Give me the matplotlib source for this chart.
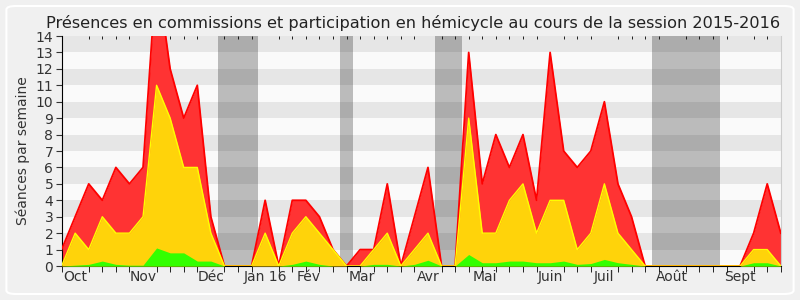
import matplotlib.pyplot as plt
import numpy as np
from matplotlib.patches import FancyBboxPatch

# weekly values, session 2015-2016 (week 0 = end of Sept 2015)
presence_total = [1, 3, 5, 4, 6, 5, 6, 18, 12, 9, 11, 3, 0, 0, 0, 4, 0, 4, 4, 3,
                  1, 0, 1, 1, 5, 0, 3, 6, 0, 0, 13, 5, 8, 6, 8, 4, 13, 7, 6, 7,
                  10, 5, 3, 0, 0, 0, 0, 0, 0, 0, 0, 2, 5, 2]
presence_hemicycle = [0, 2, 1, 3, 2, 2, 3, 11, 9, 6, 6, 2, 0, 0, 0, 2, 0, 2, 3, 2,
                      1, 0, 0, 1, 2, 0, 1, 2, 0, 0, 9, 2, 2, 4, 5, 2, 4, 4, 1, 2,
                      5, 2, 1, 0, 0, 0, 0, 0, 0, 0, 0, 1, 1, 0]
interventions = [0, 0.05, 0.1, 0.3, 0.1, 0.05, 0.05, 1.1, 0.8, 0.8, 0.3, 0.3, 0, 0, 0, 0, 0, 0.1, 0.3, 0.1,
                 0, 0, 0, 0.1, 0.1, 0, 0.1, 0.35, 0, 0, 0.7, 0.2, 0.2, 0.3, 0.3, 0.2, 0.2, 0.3, 0.1, 0.15,
                 0.4, 0.2, 0.1, 0, 0, 0, 0, 0, 0, 0, 0, 0.2, 0.2, 0]

month_labels = ["Oct", "Nov", "Déc", "Jan 16", "Fév", "Mar", "Avr", "Mai", "Juin", "Juil", "Août", "Sept"]
month_weeks = [1, 6, 11, 15, 18.2, 22.1, 27, 31.2, 36, 40, 45, 50]

# parliamentary breaks, in weeks
vacations = [(11.5, 14.5), (20.5, 21.5), (27.5, 29.5), (43.5, 48.5)]


def main():
    weeks = np.arange(len(presence_total))
    fig = plt.figure(figsize=(8, 3), dpi=100, facecolor="#f0f0f0")
    fig.patches.append(FancyBboxPatch((0.008, 0.02), 0.984, 0.96, boxstyle="round,pad=0,rounding_size=0.012",
                                      transform=fig.transFigure, facecolor="none", edgecolor="white", lw=1.5))
    ax = fig.add_axes([0.077, 0.1133, 0.899, 0.7667])
    ax.set_facecolor("#fafafa")

    # alternating horizontal stripes
    for lo in range(1, 14, 2):
        ax.axhspan(lo, lo + 1, color="#e6e6e6", lw=0, zorder=0)
    for a, b in vacations:
        ax.axvspan(a, b, color="black", alpha=0.25, lw=0, zorder=1)

    ax.fill_between(weeks, presence_total, color="#ff3333", lw=0, zorder=2)
    ax.plot(weeks, presence_total, color="#ff0000", lw=1.3, zorder=3)
    ax.fill_between(weeks, presence_hemicycle, color="#ffd30a", lw=0, zorder=4)
    ax.plot(weeks, presence_hemicycle, color="#ffff00", lw=1, zorder=5)
    ax.fill_between(weeks, interventions, color="#33ff00", lw=0, zorder=6)

    ax.set_xlim(0, len(weeks) - 1)
    ax.set_ylim(0, 14)
    ax.set_yticks(range(15))
    ax.tick_params(axis="y", labelsize=10, length=4, colors="#333333", labelcolor="#333333", pad=2)
    ax.set_xticks(weeks, minor=True)
    ax.set_xticks(month_weeks)
    ax.set_xticklabels(month_labels, fontsize=10, color="#333333")
    ax.tick_params(axis="x", which="major", length=0, pad=3)
    ax.tick_params(axis="x", which="minor", length=4, top=True, direction="out")
    for t in ax.xaxis.get_minor_ticks():
        t.tick2line.set_markersize(2)
        t.tick2line.set_marker(3)
    ax.set_ylabel("Séances par semaine", fontsize=10, color="#333333", labelpad=4)
    ax.set_title("Présences en commissions et participation en hémicycle au cours de la session 2015-2016",
                 fontsize=11.6, color="#222222", pad=6, x=0.488)

    ax.spines["top"].set_visible(False)
    ax.spines["right"].set_color("#cccccc")
    ax.spines["left"].set_color("black")
    ax.spines["bottom"].set_color("black")

    fig.savefig("out.png", dpi=100, facecolor=fig.get_facecolor())


if __name__ == "__main__":
    main()
